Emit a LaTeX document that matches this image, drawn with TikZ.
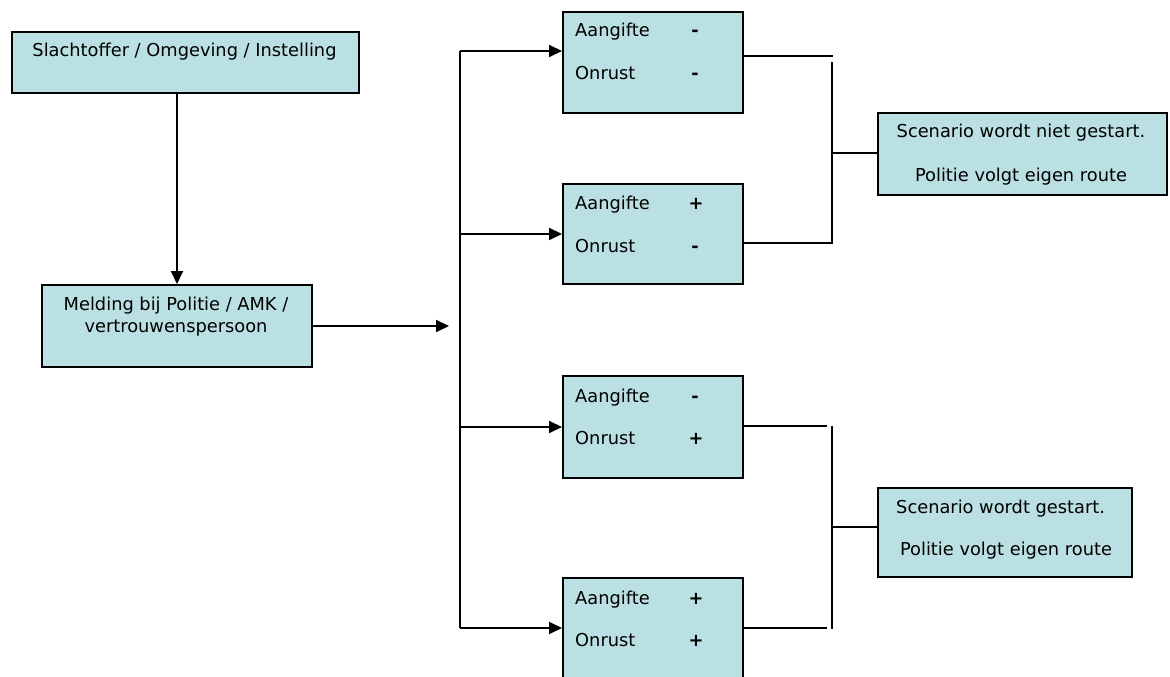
\documentclass[tikz,border=0pt]{standalone}
\usepackage{fontspec}
\setmainfont{DejaVu Sans}
\usetikzlibrary{arrows.meta}
\definecolor{boxfill}{RGB}{187,224,227}
\begin{document}
\begin{tikzpicture}[x=1pt,y=-1pt,
  box/.style={draw=black,line width=2pt,fill=boxfill,rectangle,inner sep=0pt,anchor=north west},
  txt/.style={inner sep=0pt,font=\fontsize{17.8}{21}\selectfont},
  conn/.style={line width=2pt},
  arr/.style={line width=2pt,-{Triangle[length=13pt,width=12pt]}}]
\useasboundingbox (0,0) rectangle (1170,677);
\clip (0,0) rectangle (1170,677);
% boxes
\node[box,minimum width=347pt,minimum height=61pt] (src) at (11,31) {};
\node[box,minimum width=270pt,minimum height=82pt] (meld) at (41,284) {};
\node[box,minimum width=180pt,minimum height=101pt] (A) at (562,11) {};
\node[box,minimum width=180pt,minimum height=100pt] (B) at (562,183) {};
\node[box,minimum width=180pt,minimum height=102pt] (C) at (562,375) {};
\node[box,minimum width=180pt,minimum height=104pt] (D) at (562,577) {};
\node[box,minimum width=289pt,minimum height=82pt] (F) at (877,112) {};
\node[box,minimum width=254pt,minimum height=89pt] (E) at (877,487) {};
% texts
\node[txt,anchor=base] (t1) at (184.5,57) {Slachtoffer / Omgeving / Instelling};
\node[txt,anchor=base] (t2a) at (176,310) {Melding bij Politie / AMK /};
\node[txt,anchor=base] (t2b) at (176,332) {vertrouwenspersoon};
\node[txt,anchor=base west] (Aa) at (575,37) {Aangifte};
\node[txt,anchor=base] (As1) at (695,37) {\textbf{-}};
\node[txt,anchor=base west] (Ao) at (575,79) {Onrust};
\node[txt,anchor=base] (As2) at (695,79) {\textbf{-}};
\node[txt,anchor=base west] (Ba) at (575,209) {Aangifte};
\node[txt,anchor=base] (Bs1) at (696,209) {\textbf{+}};
\node[txt,anchor=base west] (Bo) at (575,252) {Onrust};
\node[txt,anchor=base] (Bs2) at (695,252) {\textbf{-}};
\node[txt,anchor=base west] (Ca) at (575,402) {Aangifte};
\node[txt,anchor=base] (Cs1) at (695,402) {\textbf{-}};
\node[txt,anchor=base west] (Co) at (575,444) {Onrust};
\node[txt,anchor=base] (Cs2) at (696,444) {\textbf{+}};
\node[txt,anchor=base west] (Da) at (575,604) {Aangifte};
\node[txt,anchor=base] (Ds1) at (696,604) {\textbf{+}};
\node[txt,anchor=base west] (Do) at (575,646) {Onrust};
\node[txt,anchor=base] (Ds2) at (696,646) {\textbf{+}};
\node[txt,anchor=base] (Ft1) at (1021,137) {Scenario wordt niet gestart.};
\node[txt,anchor=base] (Ft2) at (1021,181) {Politie volgt eigen route};
\node[txt,anchor=base west] (Et1) at (896,513) {Scenario wordt gestart.};
\node[txt,anchor=base] (Et2) at (1006,555) {Politie volgt eigen route};
% coordinates
\coordinate (hub) at (449,325);
\coordinate (tTop) at (460,51);
\coordinate (tBot) at (460,628);
\coordinate (rA) at (833,56);
\coordinate (v1t) at (832,62);
\coordinate (v1b) at (832,243);
\coordinate (v1m) at (832,153);
\coordinate (rC) at (827,426);
\coordinate (v2t) at (832,426);
\coordinate (v2b) at (832,629);
\coordinate (rD) at (827,628);
\coordinate (v2m) at (832,527);
% connectors
\draw[arr] (meld.north |- src.south) -- (meld.north);
\draw[arr] (meld.east) -- (meld.east -| hub);
\draw[conn] (tTop) -- (tBot);
\draw[arr] (tTop) -- (tTop -| A.west);
\draw[arr] (B.west -| tTop) -- (B.west);
\draw[arr] (C.west -| tTop) -- (C.west);
\draw[arr] (tBot) -- (tBot -| D.west);
\draw[conn] (rA -| A.east) -- (rA);
\draw[conn] (v1t) -- (v1b) -- (v1b -| B.east);
\draw[conn] (v1m) -- (v1m -| F.west);
\draw[conn] (rC -| C.east) -- (rC);
\draw[conn] (v2t) -- (v2b);
\draw[conn] (rD -| D.east) -- (rD);
\draw[conn] (v2m) -- (v2m -| E.west);
\end{tikzpicture}
\end{document}
